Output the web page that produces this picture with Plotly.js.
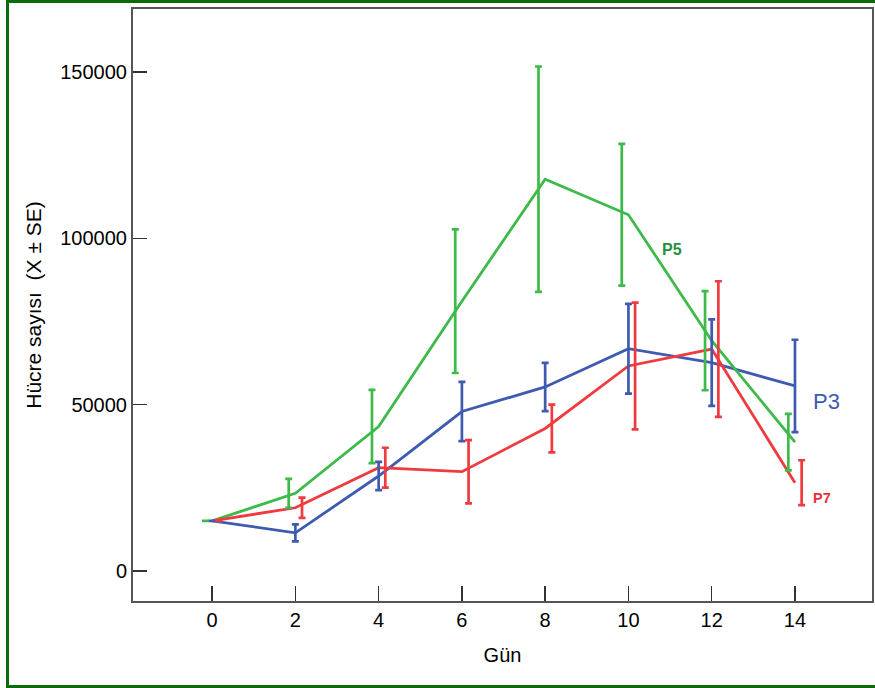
<!DOCTYPE html>
<html>
<head>
<meta charset="utf-8">
<script src="https://cdn.plot.ly/plotly-3.0.1.min.js"></script>
<style>
  html, body { margin: 0; padding: 0; background: #ffffff; }
  #wrap { position: relative; width: 875px; height: 688px; overflow: hidden; }
  #chart { position: absolute; left: 0; top: 0; width: 875px; height: 688px; }
  #frame { position: absolute; left: 6px; top: 0; width: 880px; height: 682px;
           border: 3px solid #0b6b0b; border-right: none; pointer-events: none; }
</style>
</head>
<body>
<div id="wrap">
  <div id="chart"></div>
  <div id="frame"></div>
</div>
<script>
// ---- data ----
const days = [0, 2, 4, 6, 8, 10, 12, 14];

const p3Mean = [15000, 11400, 28500, 47900, 55300, 66800, 62600, 55600];
const p3SE   = [0, 2550, 4250, 8900, 7250, 13500, 13000, 13900];

const p5Mean = [15000, 23300, 43400, 81100, 117800, 107100, 69200, 38700];
const p5SE   = [0, 4350, 11000, 21600, 33900, 21350, 14900, 8500];

const p7Mean = [15000, 18950, 31000, 29800, 42800, 61600, 66700, 26500];
const p7SE   = [0, 3050, 6000, 9500, 7200, 19050, 20400, 6750];

const yTickVals = [0, 50000, 100000, 150000];
const yTickText = ["0", "50000", "100000", "150000"];
const xTickVals = [0, 2, 4, 6, 8, 10, 12, 14];

// ---- styling ----
const cBlue = "#3f5bb0", cGreen = "#3dba4a", cRed = "#ef3a3f";
const dodge = 0.16;
const FONT = "Liberation Sans, Arial, Helvetica, sans-serif";

function lineTrace(y, color, name) {
  return { x: days, y: y, type: "scatter", mode: "lines", name: name,
           line: { color: color, width: 2.8 }, hoverinfo: "skip" };
}
function errTrace(y, se, color, off, name) {
  return { x: days.map(d => d + off), y: y, type: "scatter", mode: "markers", name: name,
           marker: { size: 1, color: "rgba(0,0,0,0)" },
           error_y: { type: "data", array: se, visible: true, color: color, thickness: 2.7, width: 3.5 },
           hoverinfo: "skip" };
}

const data = [
  lineTrace(p3Mean, cBlue, "P3"),
  lineTrace(p5Mean, cGreen, "P5"),
  lineTrace(p7Mean, cRed, "P7"),
  errTrace(p3Mean, p3SE, cBlue, 0, "P3 SE"),
  errTrace(p5Mean, p5SE, cGreen, -dodge, "P5 SE"),
  errTrace(p7Mean, p7SE, cRed, dodge, "P7 SE")
];

const layout = {
  width: 875, height: 688,
  margin: { l: 133, r: 3, t: 9, b: 87, pad: 0 },
  paper_bgcolor: "#ffffff", plot_bgcolor: "#ffffff",
  showlegend: false,
  font: { family: FONT, color: "#000000", size: 20 },
  xaxis: {
    range: [-1.9, 15.85], tickmode: "array", tickvals: xTickVals,
    ticks: "inside", ticklen: 15, tickwidth: 1.5, tickcolor: "#333",
    showline: true, mirror: true, linecolor: "#555", linewidth: 2,
    showgrid: false, zeroline: false,
    tickfont: { family: FONT, size: 20, color: "#000" },
    title: { text: "Gün", font: { family: FONT, size: 20, color: "#000" }, standoff: 18 }
  },
  yaxis: {
    range: [-9100, 169000], tickmode: "array", tickvals: yTickVals, ticktext: yTickText,
    ticks: "inside", ticklen: 14, tickwidth: 1.5, tickcolor: "#333",
    showline: true, mirror: true, linecolor: "#555", linewidth: 2,
    showgrid: false, zeroline: false,
    tickfont: { family: FONT, size: 20, color: "#000" },
    title: { text: "Hücre sayısı\u00a0 (X ± SE)", font: { family: FONT, size: 21, color: "#000" }, standoff: 13 }
  },
  annotations: [
    { x: 11.04, y: 96700, xref: "x", yref: "y", text: "<b>P5</b>", showarrow: false,
      font: { family: FONT, size: 16, color: "#1f9140" } },
    { x: 14.75, y: 50900, xref: "x", yref: "y", text: "P3", showarrow: false,
      font: { family: FONT, size: 22, color: cBlue } },
    { x: 14.65, y: 21960, xref: "x", yref: "y", text: "<b>P7</b>", showarrow: false,
      font: { family: FONT, size: 14.5, color: "#e8323a" } }
  ]
};

Plotly.newPlot("chart", data, layout, { staticPlot: true, displayModeBar: false });
</script>
</body>
</html>
